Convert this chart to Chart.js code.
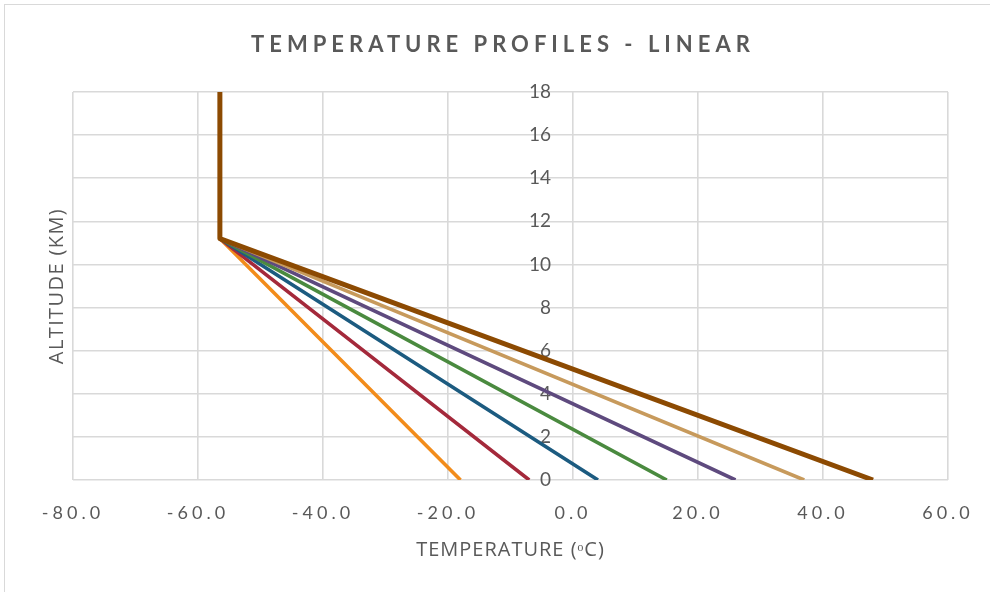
<!DOCTYPE html>
<html>
<head>
<meta charset="utf-8">
<script src="https://cdn.jsdelivr.net/npm/chart.js@4/dist/chart.umd.min.js"></script>
<style>
  html, body { margin: 0; padding: 0; background: #ffffff; overflow: hidden; }
  #wrap { position: relative; width: 990px; height: 592px; }
  #frame { position: absolute; left: 4px; top: 4px; width: 1100px; height: 700px;
           border-left: 1px solid #d9d9d9; border-top: 1px solid #d9d9d9; pointer-events: none; }
</style>
</head>
<body>
<div id="wrap">
  <canvas id="chart" width="990" height="592"></canvas>
  <div id="frame"></div>
</div>
<script>
// Temperature profiles: linear lapse from the surface up to the tropopause,
// then isothermal into the stratosphere.
const surfaceTemps   = [-18, -7, 4, 15, 26, 37, 48];     // °C at 0 km
const tropopauseTemp = -56.5;                            // °C
const profileAlts    = [0, 11.2, 18];                    // km: surface, tropopause, top
const profileColors  = ['#f28c1b', '#a4293b', '#1c5b80', '#4a8a3f', '#5e4a7e', '#c79a5c', '#8c4a02'];
const xTicks = [-80, -60, -40, -20, 0, 20, 40, 60];
const yTicks = [0, 2, 4, 6, 8, 10, 12, 14, 16, 18];

const TEXT = '#595959';
const GRID = '#d9d9d9';

// Linear scale with optional letter spacing on its labels/title and a
// horizontal shift for labels of an axis that crosses inside the plot.
class SpacedLinearScale extends Chart.LinearScale {
  static id = 'spacedLinear';
  static defaults = Chart.LinearScale.defaults;
  drawLabels(area) {
    const ctx = this.ctx;
    const t = this.options.ticks;
    ctx.save();
    ctx.letterSpacing = t.letterSpacing || '0px';
    ctx.translate(t.shiftX || 0, 0);
    super.drawLabels(area);
    ctx.restore();
  }
  drawTitle() {
    const ctx = this.ctx;
    ctx.save();
    ctx.letterSpacing = this.options.title.letterSpacing || '0px';
    super.drawTitle();
    ctx.restore();
  }
}
Chart.register(SpacedLinearScale);

const datasets = surfaceTemps.map((t0, i) => ({
  label: 'Profile ' + (i + 1),
  data: [
    { x: t0, y: profileAlts[0] },
    { x: tropopauseTemp, y: profileAlts[1] },
    { x: tropopauseTemp, y: profileAlts[2] }
  ],
  showLine: true,
  borderColor: profileColors[i],
  backgroundColor: profileColors[i],
  borderWidth: i === surfaceTemps.length - 1 ? 5 : 3.6,
  borderJoinStyle: 'round',
  pointRadius: 0,
  tension: 0,
  order: surfaceTemps.length - 1 - i
}));

const titlePlugin = {
  id: 'spacedTitle',
  afterDraw(chart) {
    const ctx = chart.ctx;
    ctx.save();
    ctx.font = 'bold 22px Lato';
    ctx.fillStyle = TEXT;
    ctx.letterSpacing = '5px';
    ctx.textAlign = 'center';
    ctx.textBaseline = 'middle';
    ctx.fillText('TEMPERATURE PROFILES - LINEAR', 503, 45);
    ctx.restore();
  }
};

new Chart(document.getElementById('chart'), {
  type: 'scatter',
  data: { datasets },
  plugins: [titlePlugin],
  options: {
    responsive: false,
    animation: false,
    layout: { padding: { top: 92, right: 42, left: 0, bottom: 0 } },
    plugins: { legend: { display: false }, tooltip: { enabled: false } },
    scales: {
      x: {
        type: 'spacedLinear',
        min: xTicks[0], max: xTicks[xTicks.length - 1],
        afterBuildTicks: s => { s.ticks = xTicks.map(v => ({ value: v })); },
        afterFit: s => { s.height = 112; },
        ticks: {
          color: TEXT, font: { family: 'Lato', size: 18 }, padding: 22,
          maxRotation: 0, autoSkip: false, letterSpacing: '4px',
          callback: v => v.toFixed(1)
        },
        grid: { color: GRID, lineWidth: 1.6, drawTicks: false },
        border: { display: false },
        title: {
          display: true, text: 'TEMPERATURE (ᵒC)', color: TEXT, letterSpacing: '1px',
          font: { family: 'Open Sans', size: 20 }, padding: { top: 0, bottom: 30 }
        }
      },
      y: {
        type: 'spacedLinear',
        position: 'left',
        min: yTicks[0], max: yTicks[yTicks.length - 1],
        afterBuildTicks: s => { s.ticks = yTicks.map(v => ({ value: v })); },
        afterFit: s => { s.width = 73; },
        ticks: { display: false },
        grid: { color: GRID, lineWidth: 1.6, drawTicks: false },
        border: { display: false },
        title: {
          display: true, text: 'ALTITUDE (KM)', color: TEXT, letterSpacing: '1.4px',
          font: { family: 'Open Sans', size: 20 }, padding: { top: 45, bottom: 0 }
        }
      },
      yLabels: {
        type: 'spacedLinear',
        position: { x: 0 },
        min: yTicks[0], max: yTicks[yTicks.length - 1],
        afterBuildTicks: s => { s.ticks = yTicks.map(v => ({ value: v })); },
        ticks: { color: TEXT, font: { family: 'Lato', size: 19 }, shiftX: -22 },
        grid: { display: false, drawTicks: false },
        border: { display: false }
      }
    }
  }
});
</script>
</body>
</html>
